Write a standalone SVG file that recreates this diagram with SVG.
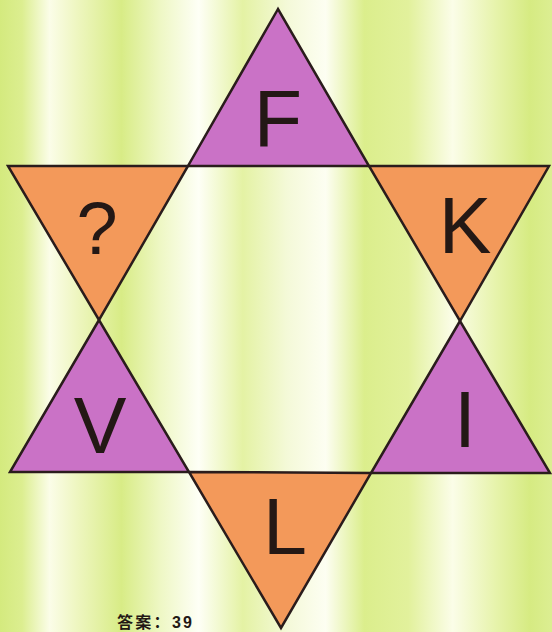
<svg xmlns="http://www.w3.org/2000/svg" width="552" height="632" viewBox="0 0 552 632">
<defs>
<linearGradient id="bg" x1="0" y1="0" x2="552" y2="0" gradientUnits="userSpaceOnUse">
<stop offset="0" stop-color="#d4ea7e"/>
<stop offset="0.04" stop-color="#dcee90"/>
<stop offset="0.09" stop-color="#fbfde8"/>
<stop offset="0.14" stop-color="#eef6c0"/>
<stop offset="0.22" stop-color="#d8ec86"/>
<stop offset="0.29" stop-color="#eef7c4"/>
<stop offset="0.36" stop-color="#fefff6"/>
<stop offset="0.44" stop-color="#e4f2a4"/>
<stop offset="0.52" stop-color="#f4f9d8"/>
<stop offset="0.59" stop-color="#fdfef2"/>
<stop offset="0.66" stop-color="#dbee8c"/>
<stop offset="0.74" stop-color="#e2f19c"/>
<stop offset="0.82" stop-color="#fbfde8"/>
<stop offset="0.9" stop-color="#e6f3aa"/>
<stop offset="0.96" stop-color="#d6eb82"/>
<stop offset="1" stop-color="#dcee92"/>
</linearGradient>
</defs>
<style>
.p{fill:#ca72c6;stroke:#2a1c1c;stroke-width:2.5;stroke-linejoin:miter}
.o{fill:#f3995a;stroke:#2a1c1c;stroke-width:2.5;stroke-linejoin:miter}
.t{font-family:"Liberation Sans",Arial,sans-serif;font-size:79px;fill:#231815;text-anchor:middle}
.a{font-family:"Liberation Sans","Noto Sans CJK SC",sans-serif;font-size:16px;font-weight:bold;fill:#231815}
</style>
<rect width="552" height="632" fill="url(#bg)"/>
<g id="top-F">
<polygon class="p" points="278,9 188,166 369,166"/>
<text class="t" x="278" y="146">F</text>
</g>
<g id="left-q">
<polygon class="o" points="8,166 188,166 99,320"/>
<text class="t" x="97" y="254" style="font-size:74px">?</text>
</g>
<g id="right-K">
<polygon class="o" points="369,166 549,166 460,321"/>
<text class="t" x="465" y="253">K</text>
</g>
<g id="left-V">
<polygon class="p" points="99,320 10,472 189,472"/>
<text class="t" x="100" y="453">V</text>
</g>
<g id="right-I">
<polygon class="p" points="460,321 371,473 550,473"/>
<text class="t" x="465" y="447">I</text>
</g>
<g id="bottom-L">
<polygon class="o" points="189,472 371,473 281,628"/>
<text class="t" x="285" y="554">L</text>
</g>
<text class="a" x="117" y="628" textLength="75" lengthAdjust="spacing">答案：39</text>
</svg>
